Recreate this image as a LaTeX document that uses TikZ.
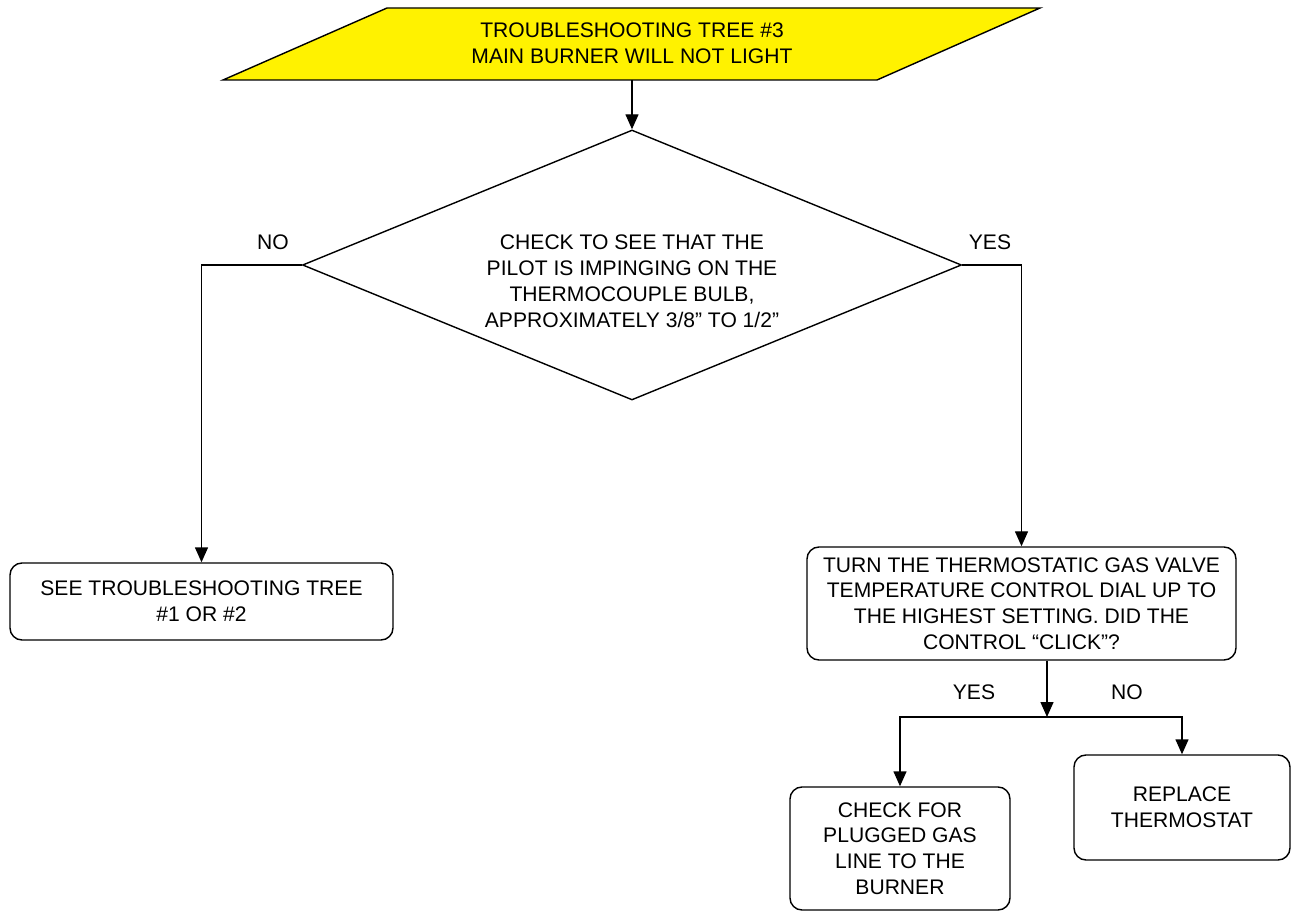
\documentclass[tikz,border=0pt]{standalone}
\usepackage{fontspec}
\setmainfont{Liberation Sans}
\usetikzlibrary{shapes.geometric,arrows.meta}

\tikzset{
  box/.style={draw,rounded corners=0.24cm,line width=0.8pt,align=center,inner sep=0pt},
  flow/.style={line width=0.8pt,-{Triangle[length=0.3cm,width=0.26cm]}},
  lbl/.style={inner sep=0pt},
}

\begin{document}
\fontsize{12}{14.7}\selectfont
\begin{tikzpicture}
%\draw[step=1cm,gray,very thin] (0,0) grid (26,18); %background grid
\useasboundingbox (0,0) rectangle (25.94,18.26);

% title
\draw[line width=0.8pt,fill=yellow] (7.74,18.10) -- (20.80,18.10) -- (17.54,16.66) -- (4.46,16.66) -- cycle;
\node[lbl,align=center] (title) at (12.64,17.40) {TROUBLESHOOTING TREE \#3\\MAIN BURNER WILL NOT LIGHT};
\coordinate (titlebot) at (12.64,16.66);

% question
\node[draw,diamond,line width=0.8pt,aspect=2.44,minimum width=13.18cm,minimum height=5.40cm,inner sep=0pt] (pilot) at (12.64,12.96) {};
\node[lbl,align=center] (pilottxt) at (12.64,12.64) {CHECK TO SEE THAT THE\\PILOT IS IMPINGING ON THE\\THERMOCOUPLE BULB,\\APPROXIMATELY 3/8” TO 1/2”};

\node[lbl] (no1) at (5.46,13.42) {NO};
\node[lbl] (yes1) at (19.80,13.42) {YES};

% answers
\node[box,minimum width=7.66cm,minimum height=1.54cm] (seetree) at (4.03,6.23) {SEE TROUBLESHOOTING TREE\\\#1 OR \#2};
\node[box,minimum width=8.58cm,minimum height=2.26cm] (dial) at (20.43,6.19) {TURN THE THERMOSTATIC GAS VALVE\\TEMPERATURE CONTROL DIAL UP TO\\THE HIGHEST SETTING. DID THE\\CONTROL “CLICK”?};

\coordinate (split) at (20.94,3.92);
\node[lbl] (yes2) at (19.48,4.42) {YES};
\node[lbl] (no2) at (22.54,4.42) {NO};

\node[box,minimum width=4.40cm,minimum height=2.46cm] (gasline) at (18.00,1.29) {CHECK FOR\\PLUGGED GAS\\LINE TO THE\\BURNER};
\node[box,minimum width=4.32cm,minimum height=2.10cm] (replace) at (23.64,2.11) {REPLACE\\THERMOSTAT};

% connectors
\draw[flow] (titlebot) -- (pilot.north);
\draw[flow] (pilot.west) -| (seetree.north);
\draw[flow] (pilot.east) -| (dial.north);
\draw[flow] (dial.south -| split) -- (split);
\draw[flow] (split) -| (gasline.north);
\draw[flow] (split) -| (replace.north);

\end{tikzpicture}
\end{document}
